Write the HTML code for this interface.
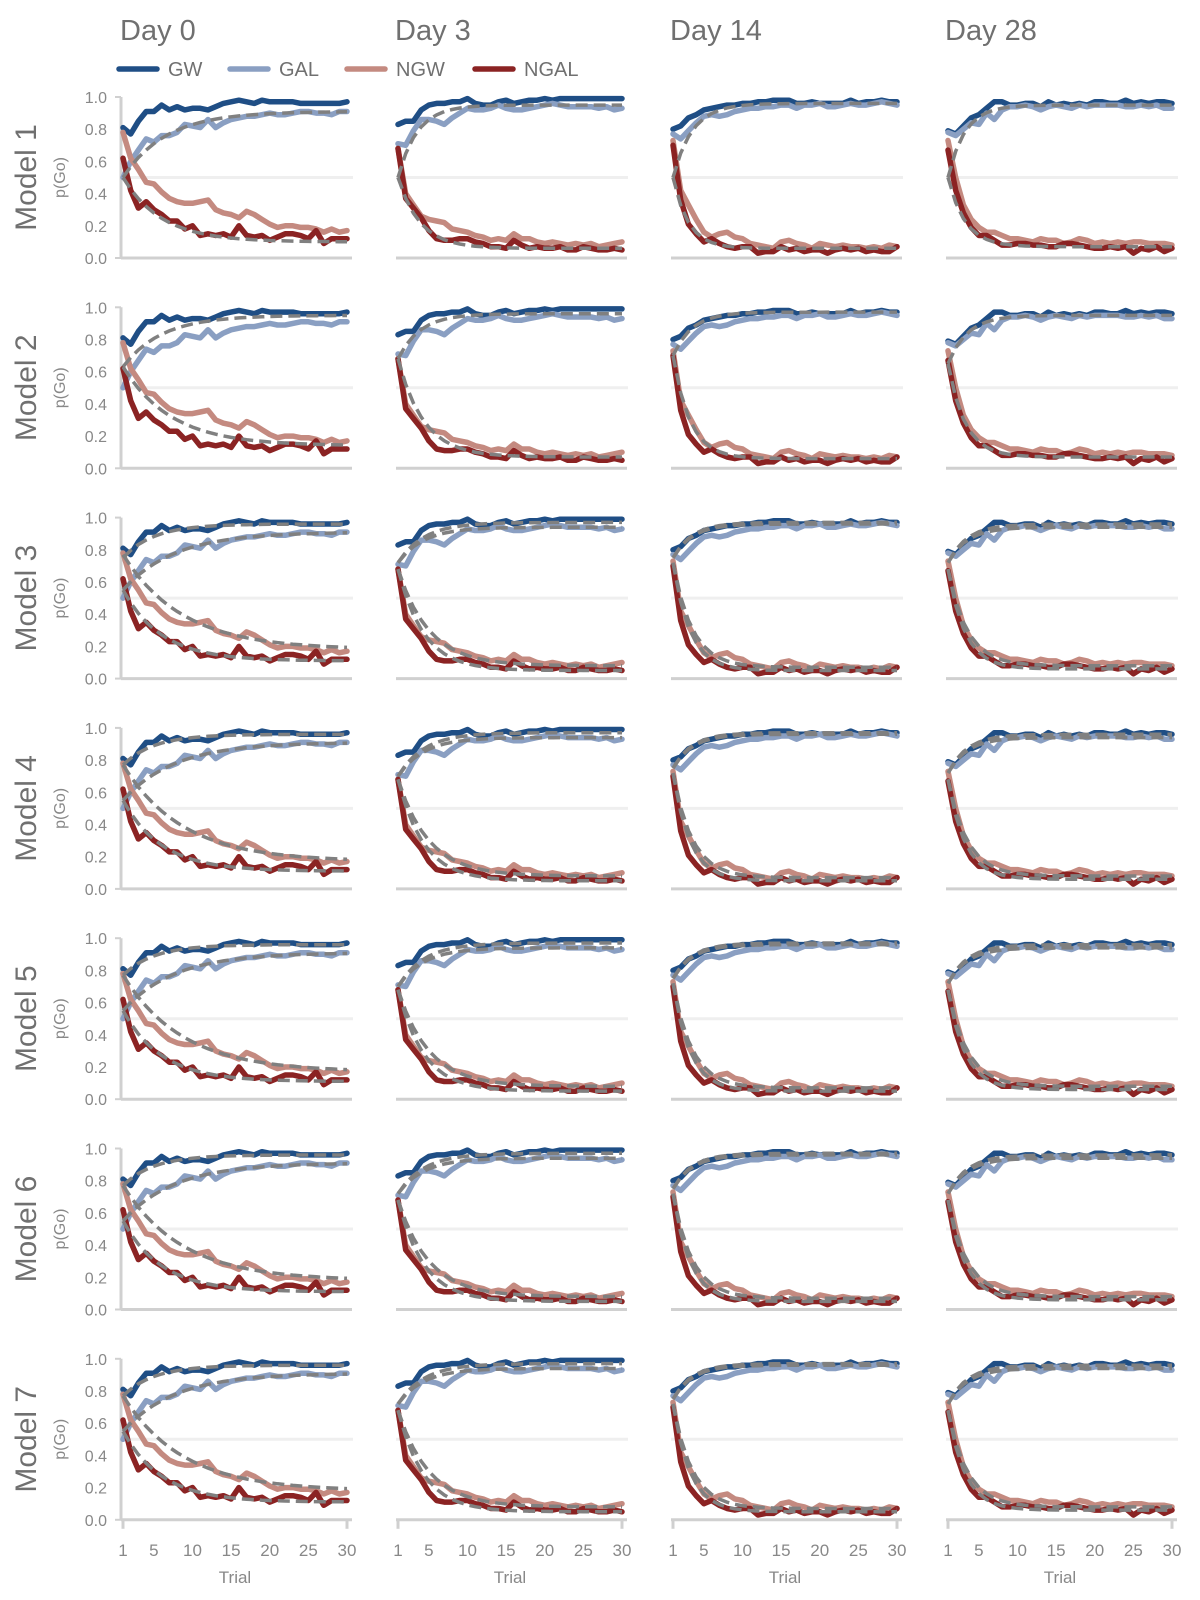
<!DOCTYPE html>
<html>
<head>
<meta charset="utf-8">
<style>
  html,body{margin:0;padding:0;background:#fff;}
  svg{display:block;font-family:"Liberation Sans",Arial,sans-serif;}
</style>
</head>
<body>
<svg id="chart" width="1200" height="1600" viewBox="0 0 1200 1600" xmlns="http://www.w3.org/2000/svg"></svg>
<script>
// ---------- data ----------
const days = ["Day 0", "Day 3", "Day 14", "Day 28"];
const models = ["Model 1","Model 2","Model 3","Model 4","Model 5","Model 6","Model 7"];
const conditions = ["GW","GAL","NGW","NGAL"];
const xTicks = [1,5,10,15,20,25,30];
const yTicks = [0.0,0.2,0.4,0.6,0.8,1.0];

// observed p(Go) per day (30 trials)
const gwDay0 = [0.81,0.77,0.85,0.91,0.91,0.95,0.92,0.94,0.92,0.93,0.93,0.92,0.94,0.96,0.97,0.98,0.97,0.96,0.98,0.97,0.97,0.97,0.97,0.96,0.96,0.96,0.96,0.96,0.96,0.97];
const galDay0 = [0.50,0.60,0.67,0.74,0.72,0.76,0.76,0.78,0.83,0.82,0.81,0.86,0.81,0.84,0.86,0.87,0.88,0.88,0.89,0.90,0.89,0.89,0.90,0.91,0.91,0.90,0.90,0.89,0.91,0.91];
const ngwDay0 = [0.78,0.62,0.55,0.47,0.46,0.41,0.37,0.35,0.34,0.34,0.35,0.36,0.30,0.28,0.27,0.25,0.29,0.27,0.24,0.21,0.19,0.20,0.20,0.19,0.19,0.18,0.16,0.18,0.16,0.17];
const ngalDay0 = [0.62,0.42,0.31,0.35,0.30,0.27,0.23,0.23,0.18,0.20,0.14,0.15,0.14,0.15,0.13,0.20,0.14,0.13,0.14,0.11,0.13,0.15,0.15,0.14,0.12,0.17,0.09,0.12,0.12,0.12];

const gwDay3 = [0.83,0.85,0.85,0.92,0.95,0.96,0.96,0.97,0.97,0.99,0.96,0.95,0.95,0.97,0.98,0.96,0.97,0.98,0.98,0.99,0.98,0.99,0.99,0.99,0.99,0.99,0.99,0.99,0.99,0.99];
const galDay3 = [0.71,0.70,0.79,0.86,0.86,0.85,0.83,0.87,0.90,0.93,0.92,0.92,0.93,0.95,0.93,0.92,0.92,0.93,0.94,0.95,0.96,0.95,0.94,0.94,0.94,0.94,0.93,0.94,0.92,0.93];
const ngwDay3 = [0.68,0.40,0.33,0.26,0.24,0.23,0.22,0.18,0.17,0.16,0.14,0.13,0.11,0.12,0.11,0.15,0.12,0.12,0.10,0.09,0.10,0.09,0.08,0.09,0.08,0.09,0.07,0.08,0.09,0.10];
const ngalDay3 = [0.68,0.37,0.31,0.25,0.17,0.12,0.11,0.11,0.12,0.12,0.10,0.09,0.07,0.07,0.06,0.11,0.08,0.06,0.07,0.06,0.06,0.07,0.05,0.05,0.07,0.06,0.05,0.05,0.06,0.05];

const gwDay14 = [0.80,0.82,0.87,0.89,0.92,0.93,0.94,0.95,0.95,0.96,0.96,0.97,0.97,0.98,0.98,0.98,0.96,0.96,0.97,0.96,0.96,0.96,0.96,0.98,0.96,0.97,0.97,0.98,0.97,0.97];
const galDay14 = [0.77,0.74,0.79,0.84,0.88,0.89,0.88,0.89,0.91,0.92,0.93,0.93,0.94,0.94,0.95,0.95,0.93,0.95,0.95,0.96,0.94,0.94,0.95,0.96,0.95,0.95,0.96,0.97,0.96,0.95];
const ngwDay14 = [0.73,0.42,0.33,0.24,0.16,0.13,0.15,0.16,0.13,0.12,0.09,0.08,0.07,0.06,0.10,0.11,0.09,0.08,0.06,0.09,0.08,0.07,0.08,0.07,0.07,0.06,0.07,0.06,0.08,0.07];
const ngalDay14 = [0.70,0.36,0.21,0.15,0.10,0.12,0.09,0.07,0.06,0.07,0.07,0.03,0.04,0.04,0.07,0.05,0.06,0.04,0.05,0.05,0.03,0.05,0.06,0.05,0.06,0.04,0.05,0.04,0.04,0.07];

const gwDay28 = [0.79,0.77,0.82,0.87,0.89,0.93,0.97,0.97,0.95,0.95,0.96,0.96,0.94,0.97,0.95,0.96,0.95,0.96,0.95,0.97,0.97,0.96,0.96,0.98,0.96,0.97,0.96,0.97,0.97,0.96];
const galDay28 = [0.78,0.76,0.80,0.84,0.83,0.90,0.86,0.92,0.94,0.94,0.95,0.94,0.92,0.94,0.95,0.94,0.93,0.95,0.94,0.95,0.95,0.95,0.95,0.94,0.94,0.95,0.94,0.95,0.93,0.93];
const ngwDay28 = [0.73,0.50,0.33,0.24,0.19,0.16,0.16,0.14,0.12,0.12,0.11,0.10,0.12,0.11,0.11,0.09,0.10,0.12,0.11,0.09,0.10,0.09,0.10,0.09,0.10,0.10,0.09,0.09,0.09,0.08];
const ngalDay28 = [0.67,0.42,0.28,0.19,0.14,0.14,0.11,0.08,0.08,0.09,0.09,0.08,0.08,0.07,0.07,0.09,0.09,0.08,0.07,0.06,0.06,0.07,0.06,0.07,0.03,0.06,0.05,0.07,0.04,0.06];

const observed = [
  [gwDay0, galDay0, ngwDay0, ngalDay0],
  [gwDay3, galDay3, ngwDay3, ngalDay3],
  [gwDay14, galDay14, ngwDay14, ngalDay14],
  [gwDay28, galDay28, ngwDay28, ngalDay28]
];

// model fit parameters: [model][day] -> per condition (GW,GAL,NGW,NGAL)
const fitStart = [
  [[0.50,0.50,0.50,0.50],[0.50,0.50,0.50,0.50],[0.50,0.50,0.50,0.50],[0.50,0.50,0.50,0.50]],
  [[0.63,0.63,0.63,0.63],[0.68,0.68,0.68,0.68],[0.70,0.70,0.70,0.70],[0.65,0.65,0.65,0.65]],
  [[0.75,0.55,0.77,0.55],[0.72,0.72,0.68,0.68],[0.75,0.75,0.72,0.72],[0.72,0.72,0.68,0.68]],
  [[0.77,0.55,0.77,0.55],[0.70,0.70,0.68,0.68],[0.75,0.75,0.72,0.72],[0.72,0.72,0.68,0.68]],
  [[0.77,0.55,0.77,0.55],[0.70,0.70,0.68,0.68],[0.75,0.75,0.72,0.72],[0.72,0.72,0.68,0.68]],
  [[0.77,0.55,0.77,0.55],[0.72,0.72,0.68,0.68],[0.75,0.75,0.72,0.72],[0.72,0.72,0.68,0.68]],
  [[0.77,0.55,0.77,0.55],[0.72,0.72,0.68,0.68],[0.75,0.75,0.72,0.72],[0.72,0.72,0.68,0.68]]
];
const fitEnd = [
  [[0.91,0.91,0.10,0.10],[0.95,0.95,0.06,0.06],[0.96,0.96,0.06,0.06],[0.95,0.95,0.07,0.07]],
  [[0.95,0.95,0.14,0.14],[0.96,0.96,0.07,0.07],[0.97,0.97,0.06,0.06],[0.95,0.95,0.07,0.07]],
  [[0.96,0.91,0.18,0.11],[0.97,0.94,0.08,0.05],[0.97,0.96,0.07,0.05],[0.96,0.94,0.08,0.06]],
  [[0.96,0.91,0.17,0.11],[0.97,0.94,0.08,0.05],[0.97,0.96,0.07,0.05],[0.96,0.94,0.08,0.06]],
  [[0.96,0.91,0.17,0.11],[0.97,0.94,0.08,0.05],[0.97,0.96,0.07,0.05],[0.96,0.94,0.08,0.06]],
  [[0.96,0.91,0.18,0.11],[0.97,0.94,0.08,0.05],[0.97,0.96,0.07,0.05],[0.96,0.94,0.08,0.06]],
  [[0.96,0.91,0.18,0.11],[0.97,0.94,0.08,0.05],[0.97,0.96,0.07,0.05],[0.96,0.94,0.08,0.06]]
];
const fitRate = [
  [[0.18,0.18,0.20,0.20],[0.40,0.40,0.35,0.35],[0.40,0.40,0.50,0.50],[0.45,0.45,0.45,0.45]],
  [[0.20,0.20,0.16,0.16],[0.35,0.35,0.30,0.30],[0.40,0.40,0.45,0.45],[0.40,0.40,0.45,0.45]],
  [[0.25,0.15,0.13,0.20],[0.30,0.30,0.25,0.30],[0.40,0.40,0.40,0.45],[0.40,0.40,0.40,0.45]],
  [[0.25,0.15,0.13,0.20],[0.30,0.30,0.25,0.30],[0.40,0.40,0.40,0.45],[0.40,0.40,0.40,0.45]],
  [[0.25,0.15,0.13,0.20],[0.30,0.30,0.25,0.30],[0.40,0.40,0.40,0.45],[0.40,0.40,0.40,0.45]],
  [[0.25,0.15,0.13,0.20],[0.30,0.30,0.25,0.30],[0.40,0.40,0.40,0.45],[0.40,0.40,0.40,0.45]],
  [[0.25,0.15,0.13,0.20],[0.30,0.30,0.25,0.30],[0.40,0.40,0.40,0.45],[0.40,0.40,0.40,0.45]]
];
// models 1 and 2 fit only Go vs NoGo (2 curves)
const fitCurveConds = [[0,2],[0,2],[0,1,2,3],[0,1,2,3],[0,1,2,3],[0,1,2,3],[0,1,2,3]];

// ---------- drawing ----------
const NS = "http://www.w3.org/2000/svg";
const svg = document.getElementById("chart");
const colors = ["#1f4e85","#8a9fc2","#c48a80","#8b2323"];
const COL_X0 = 123, COL_STEP = 275, PLOT_W = 224;
const ROW_Y0 = 97, ROW_STEP = 210.3, PLOT_H = 161;
const nTrials = 30;

function mk(tag, attrs, parent){
  const e = document.createElementNS(NS, tag);
  for (const k in attrs) e.setAttribute(k, attrs[k]);
  (parent || svg).appendChild(e);
  return e;
}
function xScale(c, t){ return COL_X0 + c*COL_STEP + (t-1)*PLOT_W/(nTrials-1); }
function yScale(r, v){ return ROW_Y0 + r*ROW_STEP + (1-v)*PLOT_H; }
function fitValue(m, d, k, t){
  const s = fitStart[m][d][k], e = fitEnd[m][d][k], a = fitRate[m][d][k];
  return e + (s-e)*Math.exp(-a*(t-1));
}

// day titles
days.forEach((d, c) => {
  const t = mk("text", {x: 120 + c*COL_STEP, y: 40, "font-size": 29, fill: "#707070"});
  t.textContent = d;
  
  
});

// legend
const legendX = [119, 230, 347, 475];
conditions.forEach((name, k) => {
  const g = mk("g", {});
  
  
  mk("line", {x1: legendX[k], y1: 69, x2: legendX[k]+38, y2: 69, stroke: colors[k], "stroke-width": 5.5, "stroke-linecap": "round"}, g);
  const t = mk("text", {x: legendX[k]+49, y: 76, "font-size": 20, fill: "#707070"}, g);
  t.textContent = name;
});

for (let r = 0; r < models.length; r++){
  const rowTop = ROW_Y0 + r*ROW_STEP, rowBot = rowTop + PLOT_H;
  const ml = mk("text", {x: 0, y: 0, "font-size": 30, fill: "#707070", "text-anchor": "middle",
    transform: `translate(36,${(rowTop+rowBot)/2}) rotate(-90)`});
  ml.textContent = models[r];
  
  
  const yl = mk("text", {x: 0, y: 0, "font-size": 16, fill: "#888", "text-anchor": "middle",
    transform: `translate(65,${(rowTop+rowBot)/2}) rotate(-90)`});
  yl.textContent = "p(Go)";
  
  

  for (let c = 0; c < days.length; c++){
    const panel = mk("g", {});
    
    
    const xL = xScale(c, 1), xR = xScale(c, nTrials);
    mk("line", {x1: xL-2, x2: xR+6, y1: yScale(r,0.5), y2: yScale(r,0.5), stroke: "#efefef", "stroke-width": 3}, panel);
    const ax = mk("line", {x1: xL-2, x2: xR+5, y1: rowBot, y2: rowBot, stroke: "#d0d0d0", "stroke-width": 3}, panel);
    
    
    if (c === 0){
      const yax = mk("line", {x1: xL-2, x2: xL-2, y1: rowTop, y2: rowBot, stroke: "#d0d0d0", "stroke-width": 3}, panel);
      
      
      mk("line", {x1: xL-8, x2: xL-2, y1: rowTop, y2: rowTop, stroke: "#d0d0d0", "stroke-width": 2}, panel);
      mk("line", {x1: xL-8, x2: xL-2, y1: rowBot, y2: rowBot, stroke: "#d0d0d0", "stroke-width": 2}, panel);
      yTicks.forEach(v => {
        const tl = mk("text", {x: 107, y: yScale(r, v)+6, "font-size": 16, fill: "#888", "text-anchor": "end"}, panel);
        tl.textContent = v.toFixed(1);
        
        
      });
    }
    if (r === models.length-1){
      mk("line", {x1: xL, x2: xL, y1: rowBot, y2: rowBot+9, stroke: "#d0d0d0", "stroke-width": 3}, panel);
      mk("line", {x1: xR, x2: xR, y1: rowBot, y2: rowBot+9, stroke: "#d0d0d0", "stroke-width": 3}, panel);
      xTicks.forEach(t => {
        const tl = mk("text", {x: xScale(c, t), y: 1556, "font-size": 17, fill: "#888", "text-anchor": "middle"}, panel);
        tl.textContent = t;
        
        
      });
      const xt = mk("text", {x: (xL+xR)/2, y: 1583, "font-size": 17, fill: "#888", "text-anchor": "middle"}, panel);
      xt.textContent = "Trial";
      
      
    }
    for (let k = 0; k < 4; k++){
      const vals = observed[c][k];
      const pts = vals.map((v, i) => xScale(c, i+1).toFixed(1) + "," + yScale(r, v).toFixed(1)).join(" ");
      const pl = mk("polyline", {points: pts, fill: "none", stroke: colors[k], "stroke-width": 5.5, "stroke-linejoin": "round", "stroke-linecap": "round"}, panel);
      
      
    }
    fitCurveConds[r].forEach(k => {
      const pts = [];
      for (let t = 1; t <= nTrials; t++) pts.push(xScale(c, t).toFixed(1) + "," + yScale(r, fitValue(r, c, k, t)).toFixed(1));
      const fl = mk("polyline", {points: pts.join(" "), fill: "none", stroke: "#808080", "stroke-width": 3.5, "stroke-dasharray": "12,6"}, panel);
      
      
    });
  }
}
</script>
</body>
</html>
